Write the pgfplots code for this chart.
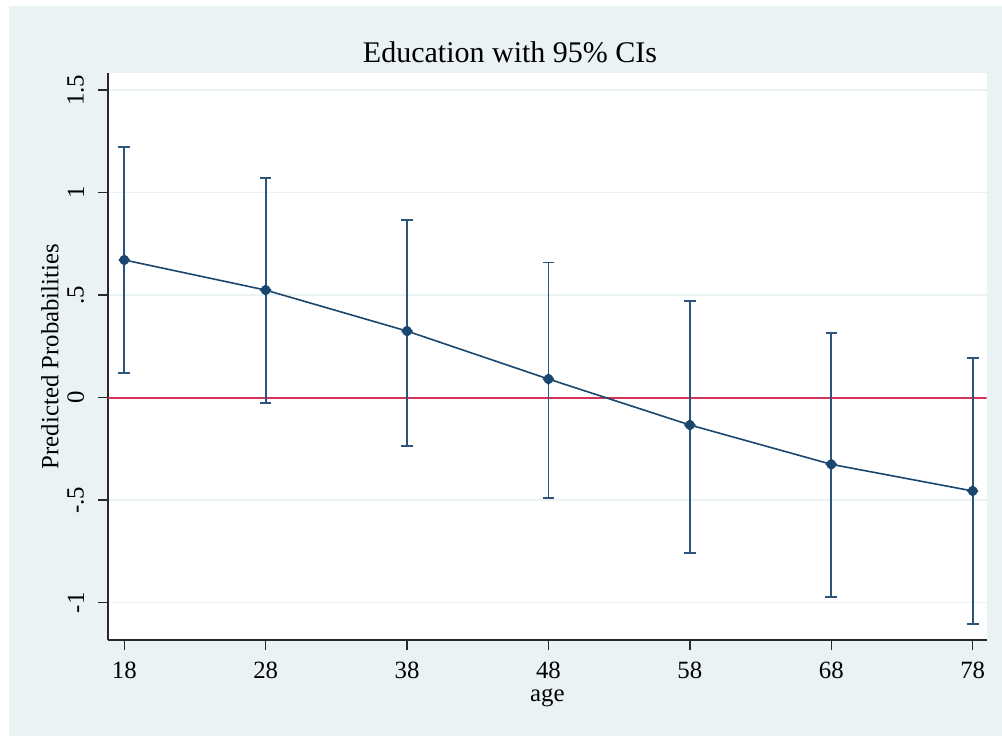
\documentclass[border=0pt]{standalone}
\usepackage{pgfplots}
\pgfplotsset{compat=1.18}
\usepackage{pgfplotstable}
\usepackage{fontspec}
\setmainfont{Liberation Serif}
\definecolor{bgc}{RGB}{234,242,243}
\definecolor{stnavy}{RGB}{26,71,111}
\definecolor{cibar}{RGB}{45,84,122}
\definecolor{refred}{RGB}{212,52,88}
\definecolor{axgray}{RGB}{40,40,40}
\pgfplotstableread{
age  pr     lo      hi
18   0.672  0.120   1.224
28   0.525  -0.024  1.070
38   0.325  -0.234  0.867
48   0.091  -0.491  0.660
58   -0.133 -0.759  0.473
68   -0.325 -0.974  0.314
78   -0.455 -1.104  0.192
}\edudata
\newcommand\labfont{\fontsize{12.4pt}{14pt}\selectfont}
\begin{document}
\begin{tikzpicture}
\fill[white] (0,0) rectangle (501pt,368pt);
\fill[bgc] (4.5pt,0) rectangle (501pt,365pt);
\begin{axis}[
  at={(54pt,48pt)}, anchor=south west,
  scale only axis, width=439.35pt, height=283.5pt,
  xmin=16.85, xmax=78.99, ymin=-1.182, ymax=1.584,
  axis x line*=bottom, axis y line*=left,
  axis line style={-, draw=axgray, line width=0.75pt},
  axis background/.style={fill=white},
  tick align=outside, major tick length=5pt,
  tick style={draw=axgray, line width=0.75pt},
  xtick={18,28,38,48,58,68,78}, xticklabels={18,28,38,48,58,68,78},
  ytick={-1,-0.5,0,0.5,1,1.5}, yticklabels={{-1},{-.5},{0},{.5},{1},{1.5}},
  ymajorgrids, grid style={draw=bgc, line width=0.75pt},
  every tick label/.append style={font=\labfont, text=black},
  yticklabel style={rotate=90, anchor=south, inner ysep=6.8pt},
  xticklabel style={anchor=north, inner sep=0pt, yshift=-5.8pt},
  xlabel={age}, ylabel={Predicted Probabilities},
  label style={font=\labfont, text=black},
  xlabel style={at={(axis description cs:0.5,-0.109)}, anchor=base, inner sep=0pt},
  ylabel style={at={(axis description cs:-0.066,0.5)}, anchor=center},
]
\addplot[refred, line width=1pt, forget plot] coordinates {(16.85,0) (78.99,0)};
\addplot[cibar, line width=0.9pt, only marks, mark=none,
  error bars/.cd, y dir=both, y explicit,
  error bar style={cibar, line width=0.9pt},
  error mark options={cibar, line width=0.9pt, mark size=2.9pt, rotate=90}]
  table[x=age, y=pr, y error plus expr=\thisrow{hi}-\thisrow{pr}, y error minus expr=\thisrow{pr}-\thisrow{lo}] {\edudata};
\addplot[stnavy, line width=0.8pt, mark=square*, mark size=1.7pt,
  mark options={rotate=45, solid, fill=stnavy, draw=stnavy}]
  table[x=age, y=pr] {\edudata};
\end{axis}
\node[anchor=base, font=\fontsize{15pt}{18pt}\selectfont, text=black] at (255pt,336.85pt) {Education with 95\% CIs};
\end{tikzpicture}
\end{document}
